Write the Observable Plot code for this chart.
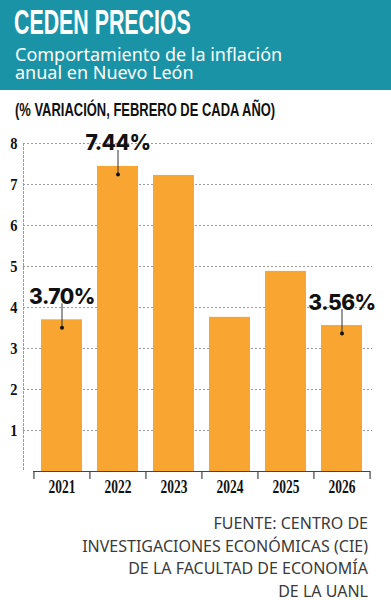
<!DOCTYPE html>
<html><head><meta charset="utf-8">
<script src="https://cdn.jsdelivr.net/npm/d3@7"></script>
<script src="https://cdn.jsdelivr.net/npm/@observablehq/plot@0.6"></script>
<style>
body{margin:0;width:391px;height:600px;overflow:hidden;background:#fff;font-family:"Noto Sans",sans-serif;position:relative;}
#header{position:absolute;left:0;top:0;width:391px;height:90px;background:#1a93a7;}
#title{position:absolute;left:14px;top:4px;font-family:"Liberation Sans Narrow",sans-serif;font-weight:bold;font-size:35px;line-height:35px;color:#fff;transform:scaleX(0.61);transform-origin:left top;white-space:nowrap;}
#subtitle{position:absolute;left:15px;top:45px;font-size:18px;line-height:18px;color:#fff;white-space:nowrap;}
#unit{position:absolute;left:15px;top:101px;font-family:"Liberation Sans Narrow",sans-serif;font-weight:bold;font-size:18px;line-height:18px;color:#111;transform:scaleX(0.72);transform-origin:left top;white-space:nowrap;}
#chart{position:absolute;left:0;top:120px;}
#source{position:absolute;right:23px;top:512px;text-align:right;font-size:16px;line-height:22.5px;color:#3a3a3a;white-space:nowrap;}
</style></head>
<body>
<div id="header">
  <div id="title">CEDEN PRECIOS</div>
  <div id="subtitle">Comportamiento de la inflación<br>anual en Nuevo León</div>
</div>
<div id="unit">(% VARIACIÓN, FEBRERO DE CADA AÑO)</div>
<div id="chart"></div>
<div id="source">FUENTE: CENTRO DE<br>INVESTIGACIONES ECONÓMICAS (CIE)<br>DE LA FACULTAD DE ECONOMÍA<br>DE LA UANL</div>
<script>
const years = ["2021", "2022", "2023", "2024", "2025", "2026"];
const inflation = [3.70, 7.44, 7.22, 3.76, 4.88, 3.56];
const labeledYears = ["2021", "2022", "2026"];
const labelTexts = ["3.70%", "7.44%", "3.56%"];
const yTicks = [1, 2, 3, 4, 5, 6, 7, 8];

const data = years.map((y, i) => ({year: y, value: inflation[i]}));
const labels = labeledYears.map((y, i) => ({year: y, value: inflation[years.indexOf(y)], text: labelTexts[i]}));

const W = 391, H = 381, ML = 33, MR = 21, MT = 23, MB = 30;
const step = (W - ML - MR) / years.length;

const chart = Plot.plot({
  width: W, height: H,
  marginTop: MT, marginBottom: MB, marginLeft: ML, marginRight: MR,
  style: {background: "transparent", overflow: "visible"},
  x: {domain: years, paddingInner: 0.27, paddingOuter: 0.135},
  y: {domain: [0, 8]},
  marks: [
    Plot.ruleY(yTicks, {stroke: "#9a9a9a", strokeDasharray: "2,2", insetLeft: -10, insetRight: -2}),
    Plot.frame({anchor: "left", dx: -10, stroke: "#9a9a9a", strokeDasharray: "2,2"}),
    Plot.barY(data, {x: "year", y: "value", fill: "#f8a631"}),
    Plot.ruleY([0], {stroke: "#444", strokeWidth: 1.2}),
    Plot.ruleX(years, {x: d => d, y1: 0, y2: 0, dx: -step / 2, insetBottom: -8, stroke: "#444", strokeWidth: 1.2}),
    Plot.ruleX(years.slice(-1), {x: d => d, y1: 0, y2: 0, dx: step / 2, insetBottom: -8, stroke: "#444", strokeWidth: 1.2}),
    Plot.axisX({tickSize: 0, tickPadding: 9, fontSize: 18, fontWeight: "bold", fontFamily: "Liberation Sans Narrow", fill: "#111", label: null}),
    Plot.axisY({ticks: yTicks, tickSize: 0, tickPadding: 16, fontSize: 17, fontWeight: "bold", fontFamily: "Liberation Sans Narrow", fill: "#111", label: null}),
    Plot.ruleX(labels, {x: "year", y1: "value", y2: "value", insetTop: -16, insetBottom: -8, stroke: "#333", strokeWidth: 1}),
    Plot.dot(labels, {x: "year", y: "value", dy: 8, r: 2, fill: "#111", stroke: null}),
    Plot.text(labels, {x: "year", y: "value", text: "text", dy: -16, lineAnchor: "bottom", fontSize: 21, fontWeight: 800, fontFamily: "Inter", fill: "#111"})
  ]
});
document.getElementById("chart").appendChild(chart);
// condense the year and value-axis labels like the reference's narrow type
d3.select(chart).selectAll("g[aria-label='x-axis tick label'] text").each(function() {
  const t = this.getAttribute("transform") || "";
  this.setAttribute("transform", t + " scale(0.75,1)");
});
d3.select(chart).selectAll("g[aria-label='y-axis tick label'] text").each(function() {
  const t = this.getAttribute("transform") || "";
  this.setAttribute("transform", t + " scale(0.85,1)");
});
d3.select(chart).selectAll("g[aria-label='text'] text").style("letter-spacing", "-0.5px");
</script>
</body></html>
